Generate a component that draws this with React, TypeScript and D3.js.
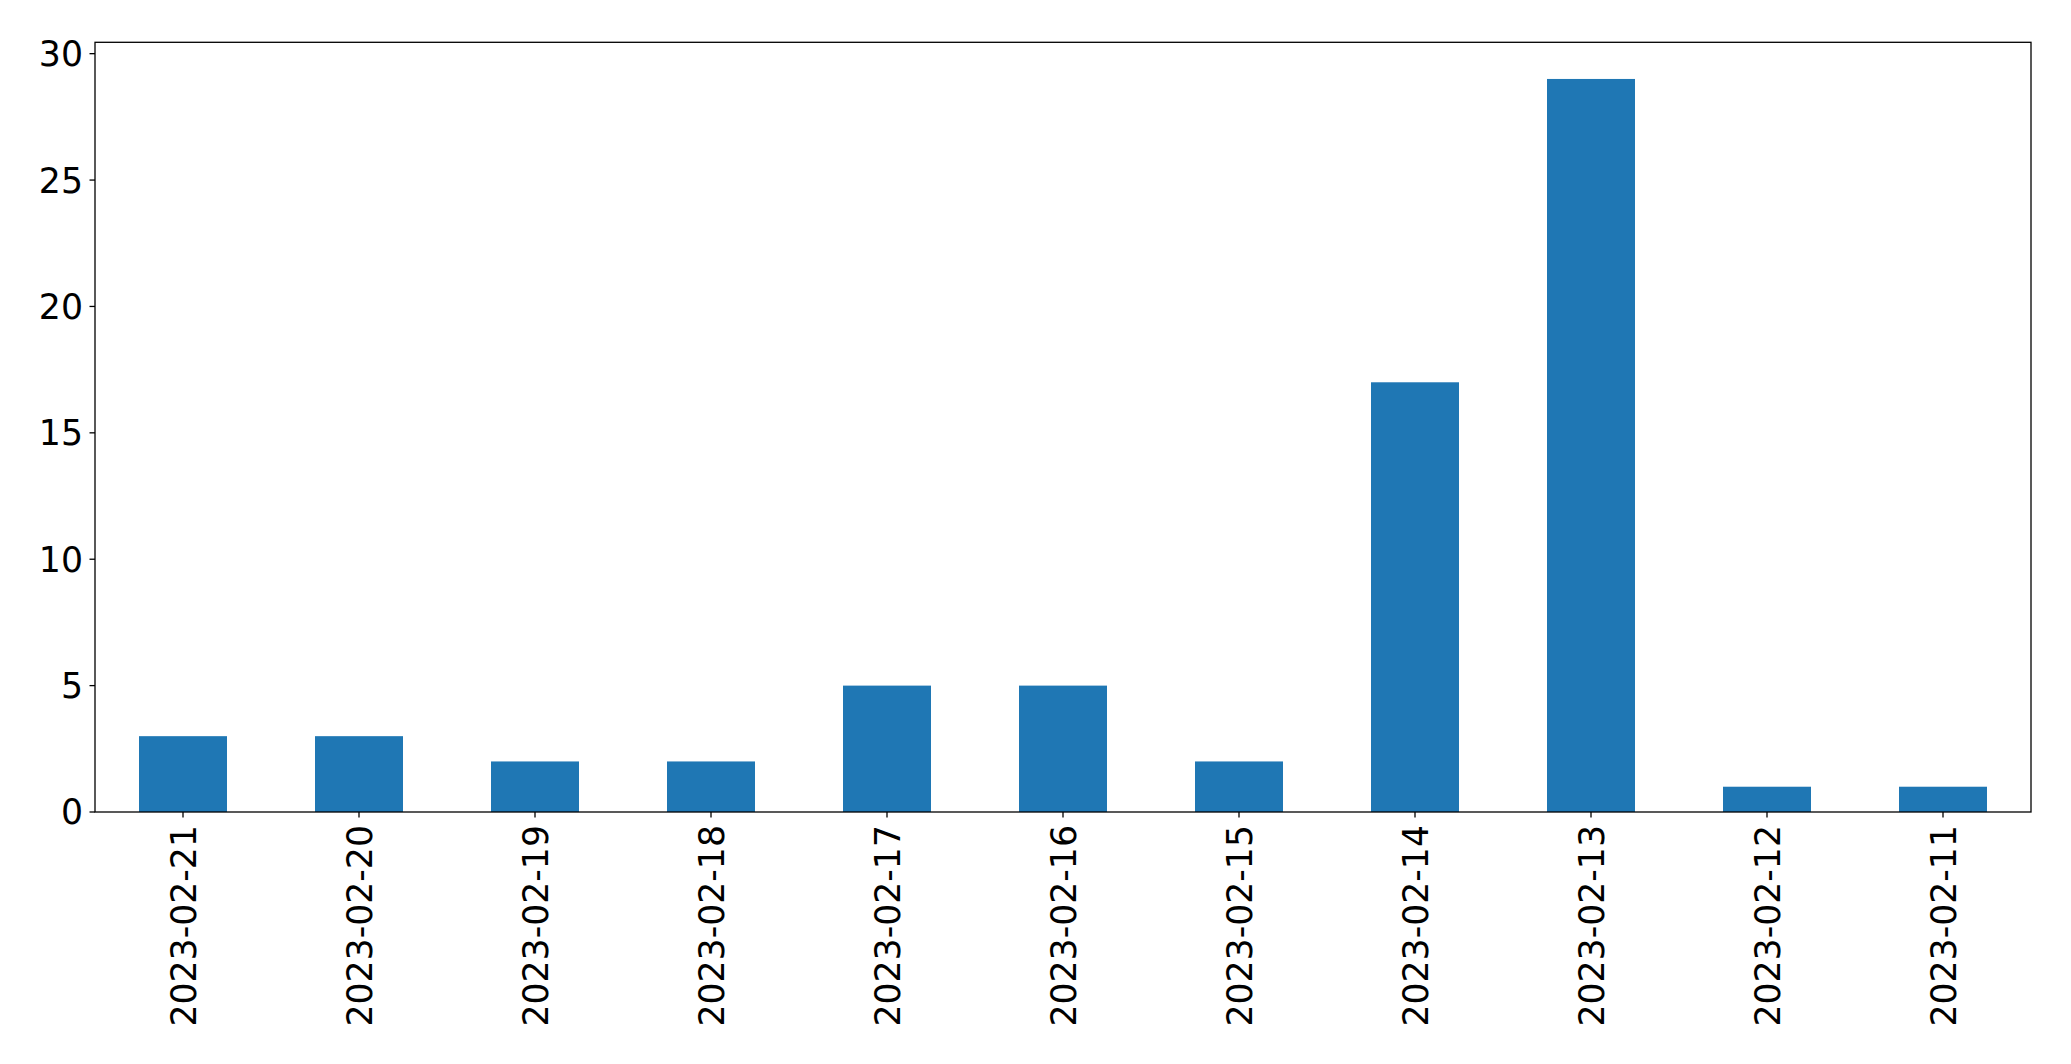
import React from "react";
import * as d3 from "d3";

const categories = ["2023-02-21","2023-02-20","2023-02-19","2023-02-18","2023-02-17","2023-02-16","2023-02-15","2023-02-14","2023-02-13","2023-02-12","2023-02-11"];
const values = [3,3,2,2,5,5,2,17,29,1,1];
const yTicks = [0,5,10,15,20,25,30];

export default function App() {
  const W = 2071, H = 1064;
  const left = 95, right = 2031, top = 42.3, bottom = 812;
  const n = categories.length;
  const x = d3.scaleLinear().domain([-0.5, n - 0.5]).range([left, right]);
  const ymax = (d3.max(values) as number) * 1.05;
  const y = d3.scaleLinear().domain([0, ymax]).range([bottom, top]);
  const font = "DejaVu Sans, sans-serif";
  const fs = 34.7;
  return (
    <svg width={W} height={H} style={{ position: "absolute", left: 0, top: 0, background: "#fff" }}>
      <rect x={0} y={0} width={W} height={H} fill="#fff" />
      {values.map((v, i) => (
        <rect key={i} x={x(i - 0.25)} y={y(v)} width={x(i + 0.25) - x(i - 0.25)} height={y(0) - y(v)} fill="#1f77b4" />
      ))}
      <rect x={left} y={top} width={right - left} height={bottom - top} fill="none" stroke="#000" strokeWidth={1.3} />
      {yTicks.map((t) => (
        <g key={t}>
          <line x1={left - 5.5} x2={left} y1={y(t)} y2={y(t)} stroke="#000" strokeWidth={1.3} />
          <text x={left - 12} y={y(t)} dy="0.36em" textAnchor="end" fontFamily={font} fontSize={fs} fill="#000">{t}</text>
        </g>
      ))}
      {categories.map((c, i) => (
        <g key={c}>
          <line x1={x(i)} x2={x(i)} y1={bottom} y2={bottom + 5.5} stroke="#000" strokeWidth={1.3} />
          <text transform={`translate(${x(i)},${bottom + 13}) rotate(-90)`} dy="0.36em" textAnchor="end" fontFamily={font} fontSize={fs} fill="#000">{c}</text>
        </g>
      ))}
    </svg>
  );
}
